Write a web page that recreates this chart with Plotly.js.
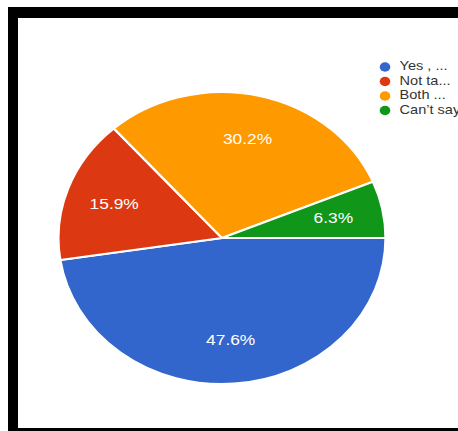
<!DOCTYPE html>
<html>
<head>
<meta charset="utf-8">
<script src="https://cdn.plot.ly/plotly-3.0.1.min.js"></script>
<style>
  html, body { margin: 0; padding: 0; background: #ffffff; overflow: hidden; }
  #wrap { position: relative; width: 458px; height: 431px; overflow: hidden; }
  #chart { position: absolute; left: 0; top: 0; width: 409px; height: 431px;
           transform: scaleX(1.12); transform-origin: 0 0; }
  #frame { position: absolute; left: 8px; top: 7px; width: 470px; height: 410px;
           border-left: 10px solid #000; border-top: 11px solid #000; border-bottom: 4px solid #000;
           box-sizing: content-box; pointer-events: none; }
</style>
</head>
<body>
<div id="wrap">
  <div id="chart"></div>
  <div id="frame"></div>
</div>
<script>
var labels = ["Yes , ...", "Not ta...", "Both ...", "Can\u2019t say"];
var values = [47.6, 15.9, 30.2, 6.3];
var colors = ["#3366cc", "#dc3912", "#ff9900", "#109618"];

var W = 409, H = 431;
var pieDomain = { x: [0.1276, 0.8416], y: [0.109, 0.7865] };
var font = "Liberation Sans, Arial, Helvetica, sans-serif";

var pie = {
  type: "pie",
  labels: labels,
  values: values,
  sort: false,
  direction: "clockwise",
  rotation: 90,
  marker: { colors: colors, line: { color: "#ffffff", width: 2 } },
  textinfo: "none",
  hoverinfo: "none",
  showlegend: false,
  domain: pieDomain
};

// percentage labels placed at 70% of the radius on each slice's bisector (derived from the values)
var total = values.reduce(function (a, b) { return a + b; }, 0);
var cxPx = (pieDomain.x[0] + pieDomain.x[1]) / 2 * W;
var cyPx = (1 - (pieDomain.y[0] + pieDomain.y[1]) / 2) * H;
var rPx = Math.min((pieDomain.x[1] - pieDomain.x[0]) * W, (pieDomain.y[1] - pieDomain.y[0]) * H) / 2;
var cum = 0;
var annotations = values.map(function (v) {
  var mid = (cum + v / 2) / total * 2 * Math.PI; // clockwise from 3 o'clock
  cum += v;
  var px = cxPx + 0.70 * rPx * Math.cos(mid);
  var py = cyPx + 0.70 * rPx * Math.sin(mid);
  return {
    xref: "paper", yref: "paper",
    x: px / W, y: 1 - py / H,
    xanchor: "center", yanchor: "middle",
    text: v.toFixed(1) + "%",
    showarrow: false,
    font: { color: "#ffffff", size: 15.5, family: font }
  };
});

var legendMarkers = {
  type: "scatter",
  mode: "markers",
  x: labels.map(function () { return 0; }),
  y: labels,
  marker: { color: colors, size: 9.5, symbol: "circle" },
  cliponaxis: false,
  hoverinfo: "none",
  showlegend: false,
  xaxis: "x2",
  yaxis: "y2"
};

var legendText = {
  type: "scatter",
  mode: "text",
  x: labels.map(function () { return 13; }),
  y: labels,
  text: labels,
  textposition: "middle right",
  textfont: { color: "#333333", size: 13, family: font },
  cliponaxis: false,
  hoverinfo: "none",
  showlegend: false,
  xaxis: "x2",
  yaxis: "y2"
};

var layout = {
  width: W,
  height: H,
  margin: { l: 0, r: 0, t: 0, b: 0 },
  paper_bgcolor: "rgba(0,0,0,0)",
  plot_bgcolor: "rgba(0,0,0,0)",
  showlegend: false,
  annotations: annotations,
  xaxis2: { domain: [0.8405, 1.0], range: [0, 65.25], visible: false, fixedrange: true, anchor: "y2" },
  yaxis2: { domain: [0.7268, 0.8614], type: "category", range: [3.5, -0.5], visible: false, fixedrange: true, anchor: "x2" }
};

Plotly.newPlot("chart", [pie, legendMarkers, legendText], layout, { staticPlot: true, displayModeBar: false });
</script>
</body>
</html>
